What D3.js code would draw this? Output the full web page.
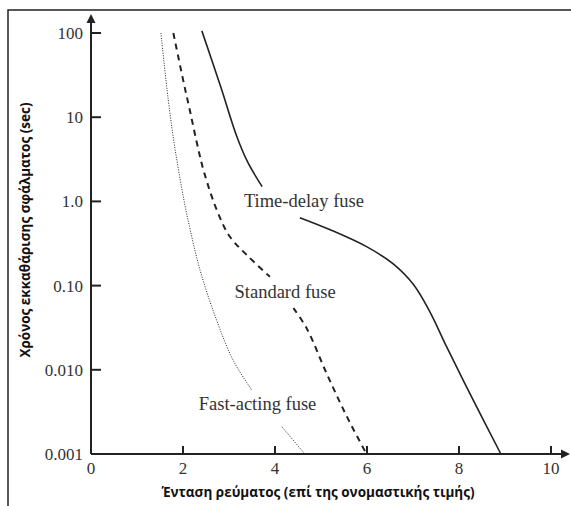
<!DOCTYPE html>
<html>
<head>
<meta charset="utf-8">
<script src="https://cdn.jsdelivr.net/npm/d3@7"></script>
<style>
    body { margin: 0; background: #fff; }
    svg { display: block; }
    .tick-label { font-family: "Liberation Serif", serif; font-size: 17px; fill: #333; }
    .curve-label { font-family: "Liberation Serif", serif; font-size: 18.5px; fill: #333; }
    .axis-title { font-family: "Open Sans", sans-serif; font-size: 13.5px; font-weight: bold; fill: #111; }
</style>
</head>
<body>
<svg id="chart" width="571" height="506"></svg>
<script>
// fuse time-current curves (t in sec, current in multiples of rating)

const xTicks = [0, 2, 4, 6, 8, 10];
const yTicks = [100, 10, 1, 0.1, 0.01, 0.001];
const yTickLabels = ["100", "10", "1.0", "0.10", "0.010", "0.001"];

// each curve is split where its label sits
const timeDelayTop = [[2.41, 106], [2.82, 23], [3.17, 5.9], [3.41, 2.9], [3.72, 1.5]];
const timeDelayBottom = [[4.54, 0.64], [5.2, 0.46], [5.99, 0.29], [6.57, 0.181], [7.01, 0.103],
    [7.37, 0.0485], [7.73, 0.0188], [8.315, 0.0043], [8.91, 0.001]];

const standardTop = [[1.79, 100], [2.02, 25], [2.15, 12], [2.3, 5], [2.46, 2.2], [2.76, 0.73],
    [3.02, 0.38], [3.39, 0.23], [3.89, 0.127]];
const standardBottom = [[4.40, 0.054], [4.69, 0.031], [5.12, 0.0091], [5.56, 0.0028], [5.99, 0.001]];

const fastTop = [[1.52, 100], [1.68, 16], [1.83, 4.1], [2.02, 1.04], [2.11, 0.6], [2.37, 0.153],
    [2.73, 0.039], [3.09, 0.013], [3.49, 0.0058]];
const fastBottom = [[4.15, 0.0021], [4.65, 0.001]];

const labels = [
    { text: "Time-delay fuse", x: 4.63, t: 0.86 },
    { text: "Standard fuse", x: 4.22, t: 0.071 },
    { text: "Fast-acting fuse", x: 3.62, t: 0.0033 },
];

const svg = d3.select("#chart");

const x = d3.scaleLinear().domain([0, 10]).range([91, 551]);
const y = d3.scaleLog().domain([0.001, 100]).range([454, 33]);

// ---- frame ----
svg.append("path")
    .attr("d", "M8,506V10H571")
    .attr("fill", "none").attr("stroke", "#222").attr("stroke-width", 1.5);

// ---- axes ----
const axisColor = "#222";

svg.append("line")
    .attr("x1", x(0)).attr("x2", 565)
    .attr("y1", y(0.001)).attr("y2", y(0.001))
    .attr("stroke", axisColor).attr("stroke-width", 2);
svg.append("path")
    .attr("d", `M570,${y(0.001)}l-9,-4.5v9z`)
    .attr("fill", axisColor);

svg.append("line")
    .attr("x1", x(0)).attr("x2", x(0))
    .attr("y1", y(0.001)).attr("y2", 20)
    .attr("stroke", axisColor).attr("stroke-width", 2);
svg.append("path")
    .attr("d", `M${x(0)},14l-4.5,9h9z`)
    .attr("fill", axisColor);

svg.selectAll(".xtick")
    .data(xTicks.filter(d => d > 0)).enter().append("line")
    .attr("x1", d => x(d)).attr("x2", d => x(d))
    .attr("y1", y(0.001)).attr("y2", y(0.001) - 8)
    .attr("stroke", axisColor).attr("stroke-width", 2);

svg.selectAll(".xlabel")
    .data(xTicks).enter().append("text")
    .attr("class", "tick-label")
    .attr("x", d => x(d)).attr("y", 474)
    .attr("text-anchor", "middle")
    .text(d => d);

svg.selectAll(".ytick")
    .data(yTicks.slice(0, -1)).enter().append("line")
    .attr("x1", x(0)).attr("x2", x(0) + 10)
    .attr("y1", d => y(d)).attr("y2", d => y(d))
    .attr("stroke", axisColor).attr("stroke-width", 2);

svg.selectAll(".ylabel")
    .data(yTicks).enter().append("text")
    .attr("class", "tick-label")
    .attr("x", 83).attr("y", d => y(d) + 6)
    .attr("text-anchor", "end")
    .text((d, i) => yTickLabels[i]);

svg.append("text")
    .attr("class", "axis-title")
    .attr("x", 318).attr("y", 497)
    .attr("text-anchor", "middle")
    .text("Ένταση ρεύματος (επί της ονομαστικής τιμής)");

svg.append("text")
    .attr("class", "axis-title")
    .attr("transform", "translate(30,230) rotate(-90)")
    .attr("text-anchor", "middle")
    .text("Χρόνος εκκαθάρισης σφάλματος (sec)");

// ---- curves ----
const line = d3.line()
    .x(d => x(d[0]))
    .y(d => y(d[1]))
    .curve(d3.curveCatmullRom.alpha(0.5));

const curves = [
    { data: timeDelayTop, width: 1.6, dash: null },
    { data: timeDelayBottom, width: 1.6, dash: null },
    { data: standardTop, width: 2, dash: "6,5" },
    { data: standardBottom, width: 2, dash: "6,5" },
    { data: fastTop, width: 1, dash: "1,1.5" },
    { data: fastBottom, width: 1, dash: "1,1.5" },
];

svg.selectAll(".curve")
    .data(curves).enter().append("path")
    .attr("class", "curve")
    .attr("d", d => line(d.data))
    .attr("fill", "none")
    .attr("stroke", "#222")
    .attr("stroke-width", d => d.width)
    .attr("stroke-dasharray", d => d.dash);

svg.selectAll(".curve-label")
    .data(labels).enter().append("text")
    .attr("class", "curve-label")
    .attr("x", d => x(d.x)).attr("y", d => y(d.t))
    .attr("text-anchor", "middle")
    .text(d => d.text);
</script>
</body>
</html>
